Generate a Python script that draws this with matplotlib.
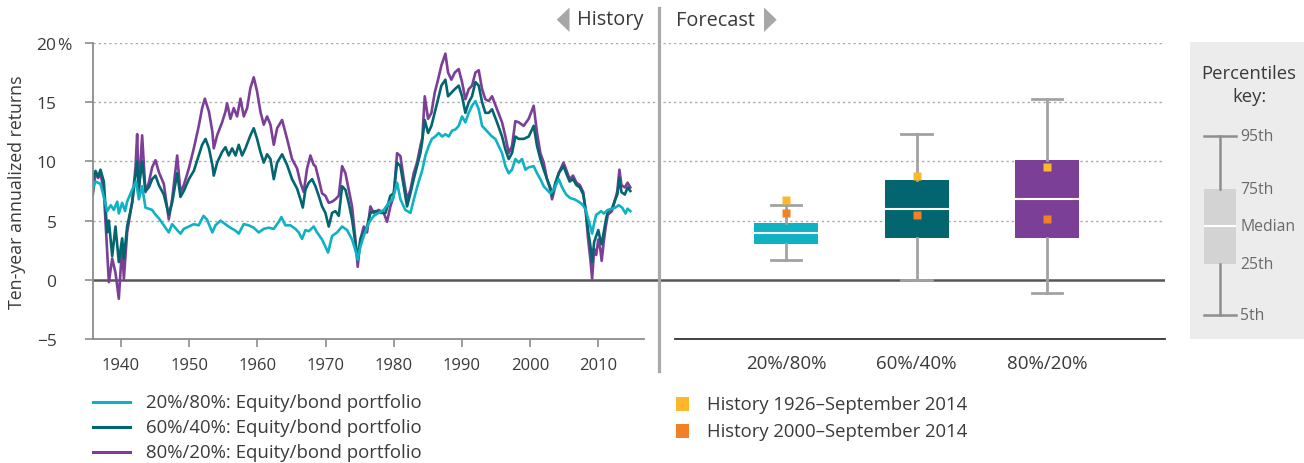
import matplotlib
matplotlib.use("Agg")
import matplotlib.pyplot as plt
from matplotlib.patches import Polygon, Rectangle
from matplotlib.lines import Line2D

plt.rcParams['font.family'] = ['Open Sans', 'DejaVu Sans']

# ---------------------------------------------------------------- data
# Rolling ten-year annualized returns (%), by decimal year
years_80_20 = [1935.87, 1936.26, 1936.65, 1936.99, 1937.48, 1937.97, 1938.22, 1938.71, 1939.19, 1939.68,
               1940.17, 1940.42, 1940.9, 1941.64, 1942.13, 1942.37, 1942.62, 1943.1, 1943.59, 1944.08,
               1944.57, 1945.06, 1945.55, 1946.28, 1947.01, 1947.5, 1948.24, 1948.72, 1949.21, 1949.95,
               1950.68, 1951.41, 1951.9, 1952.3, 1952.9, 1953.4, 1953.61, 1954.1, 1954.83, 1955.32,
               1955.56, 1956.05, 1956.54, 1957.03, 1957.52, 1958.01, 1958.5, 1958.98, 1959.47, 1959.96,
               1960.45, 1960.94, 1961.43, 1961.92, 1962.41, 1962.9, 1963.63, 1964.36, 1965.09, 1965.83,
               1966.32, 1966.8, 1967.29, 1967.78, 1968.27, 1968.52, 1969.0, 1969.49, 1969.98, 1970.47,
               1970.96, 1971.45, 1971.94, 1972.43, 1972.92, 1973.4, 1973.89, 1974.38, 1974.72, 1975.11,
               1975.6, 1976.09, 1976.58, 1977.07, 1977.8, 1978.54, 1979.02, 1979.51, 1980.0, 1980.49,
               1980.98, 1981.47, 1981.96, 1982.45, 1982.93, 1983.42, 1983.91, 1984.2, 1984.55, 1985.04,
               1985.53, 1986.01, 1986.5, 1986.99, 1987.58, 1987.97, 1988.46, 1988.95, 1989.53, 1990.02,
               1990.51, 1991.0, 1991.49, 1991.98, 1992.47, 1992.96, 1993.44, 1993.93, 1994.42, 1995.15,
               1995.89, 1996.38, 1996.87, 1997.35, 1997.84, 1998.33, 1999.06, 1999.8, 2000.53, 2001.02,
               2001.51, 2002.0, 2002.49, 2002.97, 2003.22, 2003.71, 2004.2, 2004.9, 2005.3, 2005.8,
               2006.3, 2006.8, 2007.3, 2007.8, 2008.2, 2008.5, 2008.84, 2009.1, 2009.4, 2009.7,
               2010.0, 2010.3, 2010.5, 2010.8, 2011.1, 2011.4, 2012.0, 2012.5, 2012.8, 2013.1,
               2013.4, 2013.9, 2014.3, 2014.7]
ret_80_20 = [7.2, 9.0, 8.6, 9.0, 7.5, 2.3, -0.2, 1.8, 0.6, -1.6,
             2.9, 0.1, 4.0, 6.6, 9.5, 12.3, 7.4, 12.2, 7.4, 8.2,
             9.5, 10.1, 9.1, 8.1, 5.1, 6.8, 10.5, 7.4, 8.0, 9.4,
             11.1, 13.0, 14.5, 15.3, 14.2, 12.5, 11.1, 12.2, 13.3, 14.2,
             14.9, 13.6, 14.5, 13.8, 15.3, 13.8, 14.5, 16.2, 17.1, 15.9,
             14.2, 13.1, 13.8, 13.1, 11.4, 12.8, 13.5, 11.9, 10.2, 9.4,
             8.2, 7.4, 9.4, 10.5, 9.7, 9.6, 8.5, 7.3, 7.1, 6.5,
             6.6, 6.8, 7.1, 9.6, 9.0, 7.6, 6.2, 3.4, 1.1, 3.4,
             4.5, 4.0, 6.2, 5.65, 5.9, 5.65, 4.9, 6.2, 7.1, 10.7,
             10.45, 8.5, 6.8, 7.6, 9.0, 9.9, 11.3, 12.0, 15.5, 13.6,
             14.1, 15.8, 16.9, 18.1, 19.1, 17.5, 16.9, 17.5, 17.8, 16.7,
             15.25, 16.1, 16.4, 17.5, 17.7, 16.1, 15.25, 15.1, 15.5, 14.4,
             13.3, 12.1, 10.7, 11.3, 13.4, 13.3, 13.0, 13.6, 14.7, 12.4,
             10.7, 9.9, 8.5, 7.6, 6.8, 7.9, 9.0, 9.9, 9.3, 8.5,
             8.8, 8.2, 8.0, 7.4, 5.5, 3.5, 1.75, 0.1, 2.6, 2.1,
             3.4, 2.6, 1.6, 3.2, 4.5, 5.5, 5.8, 6.8, 7.5, 9.3,
             8.0, 7.8, 8.2, 7.8]

years_60_40 = [1935.87, 1936.26, 1936.65, 1936.99, 1937.48, 1937.97, 1938.22, 1938.71, 1939.19, 1939.68,
               1940.17, 1940.42, 1940.9, 1941.64, 1942.37, 1942.62, 1943.1, 1943.59, 1944.08, 1944.57,
               1945.06, 1945.55, 1946.28, 1947.01, 1947.5, 1948.24, 1948.72, 1949.21, 1949.95, 1950.68,
               1951.41, 1951.9, 1952.4, 1952.9, 1953.4, 1953.61, 1954.1, 1954.83, 1955.32, 1955.8,
               1956.3, 1956.8, 1957.27, 1957.76, 1958.25, 1958.98, 1959.47, 1959.96, 1960.45, 1960.94,
               1961.43, 1961.92, 1962.41, 1962.9, 1963.63, 1964.36, 1965.09, 1965.83, 1966.32, 1966.66,
               1967.05, 1967.54, 1968.03, 1968.52, 1969.0, 1969.49, 1969.98, 1970.47, 1970.96, 1971.45,
               1971.94, 1972.43, 1972.92, 1973.4, 1973.89, 1974.38, 1974.72, 1975.11, 1975.6, 1976.09,
               1976.58, 1977.3, 1978.05, 1978.8, 1979.51, 1980.0, 1980.49, 1980.98, 1981.47, 1981.96,
               1982.45, 1982.93, 1983.42, 1983.91, 1984.16, 1984.55, 1985.04, 1985.53, 1986.01, 1986.5,
               1986.99, 1987.58, 1987.97, 1988.46, 1988.95, 1989.53, 1990.02, 1990.51, 1991.0, 1991.49,
               1991.98, 1992.47, 1992.96, 1993.44, 1993.93, 1994.42, 1995.15, 1995.89, 1996.38, 1996.87,
               1997.35, 1997.84, 1998.33, 1999.06, 1999.8, 2000.53, 2001.02, 2001.51, 2002.0, 2002.49,
               2002.97, 2003.22, 2003.71, 2004.2, 2004.9, 2005.3, 2005.8, 2006.3, 2006.8, 2007.3,
               2007.8, 2008.2, 2008.5, 2008.84, 2009.1, 2009.4, 2009.7, 2010.0, 2010.3, 2010.5,
               2010.8, 2011.1, 2011.4, 2012.0, 2012.5, 2012.8, 2013.1, 2013.4, 2013.9, 2014.3,
               2014.7]
ret_60_40 = [8.5, 9.2, 8.7, 9.3, 8.3, 4.0, 5.0, 2.0, 4.5, 1.5,
             3.5, 1.8, 4.5, 6.5, 10.0, 7.8, 10.0, 7.5, 7.8, 8.5,
             8.8, 8.0, 7.2, 5.5, 6.5, 9.0, 7.0, 7.5, 8.5, 9.2,
             10.5, 11.4, 11.9, 11.1, 9.7, 8.8, 9.9, 10.8, 11.2, 10.5,
             11.1, 10.5, 11.4, 10.5, 11.1, 12.2, 12.8, 11.9, 10.8, 9.9,
             10.6, 10.2, 8.5, 9.9, 10.6, 9.7, 8.5, 7.7, 6.8, 6.1,
             7.6, 8.2, 8.5, 7.9, 7.1, 6.2, 5.65, 4.5, 5.65, 5.8,
             5.4, 7.9, 7.6, 6.5, 5.1, 3.1, 1.7, 3.4, 4.0, 4.5,
             5.65, 5.8, 5.65, 5.65, 7.1, 7.3, 9.9, 9.6, 7.9, 6.2,
             7.3, 8.5, 9.6, 10.7, 11.6, 13.5, 12.4, 13.0, 14.1, 15.25,
             16.4, 16.9, 15.5, 15.8, 16.1, 16.4, 15.5, 14.1, 15.0, 15.5,
             16.7, 16.4, 15.0, 14.1, 14.1, 14.4, 13.3, 12.1, 11.0, 10.2,
             10.7, 12.1, 11.9, 11.9, 12.1, 13.0, 11.3, 10.2, 9.3, 8.5,
             7.8, 7.1, 8.2, 9.0, 9.6, 9.0, 8.3, 8.5, 8.0, 7.8,
             7.2, 5.8, 4.2, 2.9, 1.5, 3.2, 3.7, 4.2, 3.4, 3.0,
             4.0, 5.0, 5.8, 6.0, 6.8, 7.2, 8.6, 7.4, 7.2, 7.8,
             7.5]

years_20_80 = [1935.87, 1936.26, 1936.99, 1937.48, 1937.97, 1938.5, 1938.95, 1939.45, 1939.68, 1940.17,
               1940.6, 1940.9, 1941.64, 1942.2, 1942.62, 1943.1, 1943.59, 1944.08, 1944.57, 1945.06,
               1945.55, 1946.28, 1947.01, 1947.5, 1948.24, 1948.72, 1949.21, 1949.95, 1950.68, 1951.4,
               1952.1, 1952.6, 1953.4, 1953.85, 1954.6, 1955.3, 1956.05, 1956.8, 1957.27, 1958.0,
               1958.74, 1959.47, 1960.2, 1960.94, 1961.67, 1962.4, 1963.14, 1963.53, 1964.1, 1964.85,
               1965.58, 1966.07, 1966.56, 1967.05, 1967.54, 1968.27, 1968.76, 1969.49, 1969.98, 1970.37,
               1970.96, 1971.69, 1972.43, 1973.16, 1973.89, 1974.38, 1974.72, 1975.11, 1975.6, 1976.34,
               1977.07, 1977.8, 1978.54, 1979.27, 1979.86, 1980.49, 1980.98, 1981.71, 1982.45, 1983.18,
               1983.67, 1984.16, 1984.65, 1985.13, 1985.6, 1986.1, 1986.6, 1987.1, 1987.58, 1988.07,
               1988.56, 1989.05, 1989.53, 1990.02, 1990.51, 1991.0, 1991.49, 1991.98, 1992.47, 1992.96,
               1993.44, 1993.93, 1994.42, 1994.9, 1995.4, 1995.89, 1996.38, 1996.87, 1997.35, 1997.84,
               1998.33, 1998.82, 1999.31, 1999.8, 2000.53, 2001.02, 2001.51, 2002.0, 2002.49, 2002.97,
               2003.46, 2004.2, 2004.7, 2005.3, 2005.9, 2006.5, 2007.1, 2007.6, 2008.1, 2008.5,
               2008.84, 2009.1, 2009.4, 2009.7, 2010.0, 2010.4, 2010.8, 2011.4, 2012.0, 2012.5,
               2013.0, 2013.5, 2014.0, 2014.3, 2014.7]
ret_20_80 = [7.7, 8.3, 8.1, 7.0, 5.8, 6.3, 5.9, 6.6, 5.6, 6.5,
             5.8, 6.6, 7.6, 8.3, 6.8, 7.9, 6.1, 6.0, 5.9, 5.5,
             5.2, 4.6, 4.0, 4.7, 4.2, 3.9, 4.3, 4.5, 4.7, 4.6,
             5.4, 5.1, 4.0, 4.6, 5.0, 4.7, 4.4, 4.15, 3.9, 4.7,
             4.6, 4.4, 4.0, 4.3, 4.4, 4.3, 4.9, 5.3, 4.6, 4.6,
             4.3, 4.0, 3.45, 4.2, 4.1, 4.5, 4.0, 3.4, 2.8, 2.3,
             3.7, 4.0, 4.5, 4.2, 3.4, 2.5, 1.7, 2.8, 3.7, 4.8,
             5.4, 5.65, 5.9, 6.5, 6.8, 8.2, 6.8, 5.9, 5.65, 7.3,
             8.3, 9.2, 10.5, 11.3, 11.9, 12.1, 12.4, 12.1, 12.3, 12.1,
             12.6, 12.7, 13.0, 13.8, 13.3, 14.1, 14.7, 15.1, 14.4, 13.0,
             12.7, 12.4, 12.1, 11.9, 11.3, 10.7, 9.6, 9.0, 9.3, 10.2,
             9.9, 10.2, 9.3, 9.5, 9.6, 9.0, 8.5, 7.9, 7.6, 7.3,
             7.6, 8.5, 7.8, 7.2, 6.9, 6.8, 6.6, 6.4, 6.0, 5.2,
             4.5, 3.9, 4.8, 5.5, 5.6, 5.8, 5.6, 5.9, 6.0, 6.1,
             6.3, 6.1, 5.6, 6.0, 5.8]

series_labels = ["20%/80%: Equity/bond portfolio",
                 "60%/40%: Equity/bond portfolio",
                 "80%/20%: Equity/bond portfolio"]

# Forecast distribution of ten-year annualized returns (%)
portfolios = ["20%/80%", "60%/40%", "80%/20%"]
pct_5 = [1.7, 0.0, -1.1]
pct_25 = [3.0, 3.55, 3.55]
pct_50 = [3.95, 5.95, 6.85]
pct_75 = [4.8, 8.45, 10.15]
pct_95 = [6.35, 12.35, 15.3]
hist_1926_2014 = [6.75, 8.75, 9.5]
hist_2000_2014 = [5.6, 5.45, 5.1]
marker_labels = ["History 1926\u2013September 2014", "History 2000\u2013September 2014"]

# Percentiles key (schematic levels)
key_names = ["5th", "25th", "Median", "75th", "95th"]
key_levels = [24, 75, 113, 150, 203]

decades = [1940, 1950, 1960, 1970, 1980, 1990, 2000, 2010]
y_ticks = [-5, 0, 5, 10, 15, 20]
y_tick_labels = ["\u22125", "0", "5", "10", "15", "20"]

# ---------------------------------------------------------------- style
C20, C60, C80 = "#0FB2C2", "#03656F", "#7B3F97"
YELLOW, ORANGE = "#FDB72B", "#F28024"
TXT = "#3a3a3a"
AX_GREY = "#8c8c8c"

W, H = 1304, 464
fig = plt.figure(figsize=(W / 100, H / 100), dpi=100)


def px_box(l, t, r, b):
    return [l / W, 1 - b / H, (r - l) / W, (b - t) / H]


def fx(x):
    return x / W


def fy(y):
    return 1 - y / H


# shared horizontal grid and zero line spanning both panels
grid_ax = fig.add_axes(px_box(92.7, 44, 1165, 340))
grid_ax.set_zorder(0)
grid_ax.set_xlim(0, 1)
grid_ax.set_ylim(-5, 20)
grid_ax.axis("off")
for g in [5, 10, 15, 20]:
    grid_ax.axhline(g, color="#a9a9a9", lw=1.0, ls=(0, (1.6, 2.2)))
grid_ax.axhline(0, color="#555555", lw=1.8)

# ---------------------------------------------------------------- history panel
ax = fig.add_axes(px_box(92.7, 44, 643.6, 340))
ax.set_zorder(1)
ax.patch.set_alpha(0)
ax.plot(years_80_20, ret_80_20, color=C80, lw=1.9, solid_joinstyle="round")
ax.plot(years_60_40, ret_60_40, color=C60, lw=1.9, solid_joinstyle="round")
ax.plot(years_20_80, ret_20_80, color=C20, lw=1.9, solid_joinstyle="round")
ax.set_xlim(1935.85, 2016.65)
ax.set_ylim(-5, 20)
for s in ["top", "right"]:
    ax.spines[s].set_visible(False)
for s in ["left", "bottom"]:
    ax.spines[s].set_color(AX_GREY)
    ax.spines[s].set_linewidth(1.3)
ax.set_xticks(decades)
ax.set_xticklabels([str(d) for d in decades])
ax.set_yticks(y_ticks)
ax.set_yticklabels(y_tick_labels)
ax.tick_params(axis="x", direction="out", length=6, width=1.2, color=AX_GREY,
               labelsize=12, labelcolor=TXT, pad=7)
ax.tick_params(axis="y", direction="out", length=6, width=1.2, color=AX_GREY,
               labelsize=12.5, labelcolor=TXT, pad=20)
ax.text(-0.0652, 20, "%", transform=ax.get_yaxis_transform(), ha="left",
        va="center_baseline", fontsize=12.5, color=TXT)

fig.text(fx(17), fy(192), "Ten-year annualized returns", rotation=90, ha="center",
         va="center", fontsize=12.8, color=TXT)

# ---------------------------------------------------------------- forecast panel
bx = fig.add_axes(px_box(675, 44, 1165, 340))
bx.set_zorder(1)
bx.patch.set_alpha(0)
bx.set_xlim(-0.851, 2.904)
bx.set_ylim(-5, 20)
for s in ["top", "right", "left"]:
    bx.spines[s].set_visible(False)
bx.spines["bottom"].set_color("#333333")
bx.spines["bottom"].set_linewidth(1.3)
bx.set_yticks([])

stats = []
for i, name in enumerate(portfolios):
    stats.append(dict(label=name, whislo=pct_5[i], q1=pct_25[i], med=pct_50[i],
                      q3=pct_75[i], whishi=pct_95[i], fliers=[]))
box_colors = [C20, C60, C80]
bp = bx.bxp(stats, positions=[0, 1, 2], widths=0.49, capwidths=0.235,
            patch_artist=True, showfliers=False,
            boxprops=dict(linewidth=0),
            medianprops=dict(color="white", linewidth=1.5),
            whiskerprops=dict(color="#a2a2a2", linewidth=2),
            capprops=dict(color="#a2a2a2", linewidth=2))
for patch, c in zip(bp["boxes"], box_colors):
    patch.set_facecolor(c)
    patch.set_edgecolor(c)
bx.plot([0, 1, 2], hist_1926_2014, "s", color=YELLOW, ms=6.3, mec="none", zorder=5)
bx.plot([0, 1, 2], hist_2000_2014, "s", color=ORANGE, ms=6.3, mec="none", zorder=5)
bx.set_xticks([0, 1, 2])
bx.set_xticklabels(portfolios)
bx.tick_params(axis="x", length=0, labelsize=13.5, labelcolor=TXT, pad=11)

# ---------------------------------------------------------------- header + divider
fig.add_artist(Line2D([fx(659.3), fx(659.3)], [fy(9), fy(372)], color="#a9a9a9", lw=2.3))
fig.add_artist(Polygon([(fx(556.7), fy(20.7)), (fx(569.5), fy(8.5)), (fx(569.5), fy(33))],
                       closed=True, facecolor="#a7a7a9", edgecolor="none"))
fig.add_artist(Polygon([(fx(776.7), fy(20.7)), (fx(764), fy(8.5)), (fx(764), fy(33))],
                       closed=True, facecolor="#a7a7a9", edgecolor="none"))
fig.text(fx(577), fy(20.5), "History", ha="left", va="center", fontsize=14.3, color=TXT)
fig.text(fx(676), fy(20.5), "Forecast", ha="left", va="center", fontsize=14.3, color=TXT)

# ---------------------------------------------------------------- legends
for i, (lab, c) in enumerate(zip(series_labels, [C20, C60, C80])):
    yy = 403 + 25 * i
    fig.add_artist(Line2D([fx(93), fx(130)], [fy(yy), fy(yy)], color=c, lw=2.2))
    fig.text(fx(146), fy(yy), lab, ha="left", va="center", fontsize=13.4, color=TXT)

for i, (lab, c) in enumerate(zip(marker_labels, [YELLOW, ORANGE])):
    yy = 405 + 27 * i
    fig.add_artist(Rectangle((fx(676), fy(yy + 7)), 13 / W, 14 / H, facecolor=c,
                             edgecolor="none"))
    fig.text(fx(707), fy(yy), lab, ha="left", va="center", fontsize=13.3, color=TXT)

# ---------------------------------------------------------------- percentiles key
kx = fig.add_axes(px_box(1190, 43, 1304, 340))
kx.set_xlim(0, 114)
kx.set_ylim(0, 297)
kx.set_facecolor("#ececec")
for s in kx.spines.values():
    s.set_visible(False)
key_stats = [dict(whislo=key_levels[0], q1=key_levels[1], med=key_levels[2],
                  q3=key_levels[3], whishi=key_levels[4], fliers=[])]
kb = kx.bxp(key_stats, positions=[30], widths=32, capwidths=32, patch_artist=True,
            showfliers=False,
            boxprops=dict(linewidth=0, facecolor="#d3d3d3"),
            medianprops=dict(color="white", linewidth=1.5),
            whiskerprops=dict(color="#8e8e8e", linewidth=1.8),
            capprops=dict(color="#8e8e8e", linewidth=1.8))
kx.set_xlim(0, 114)
kx.set_xticks([])
kx.set_yticks([])
for name, lv in zip(key_names, key_levels):
    kx.text(50, lv, name, ha="left", va="center", fontsize=11.3, color="#6a6a6a")
kx.text(59, 254.5, "Percentiles\nkey:", ha="center", va="center", fontsize=13.3,
        color=TXT, linespacing=1.35)

fig.savefig("out.png", dpi=100)
